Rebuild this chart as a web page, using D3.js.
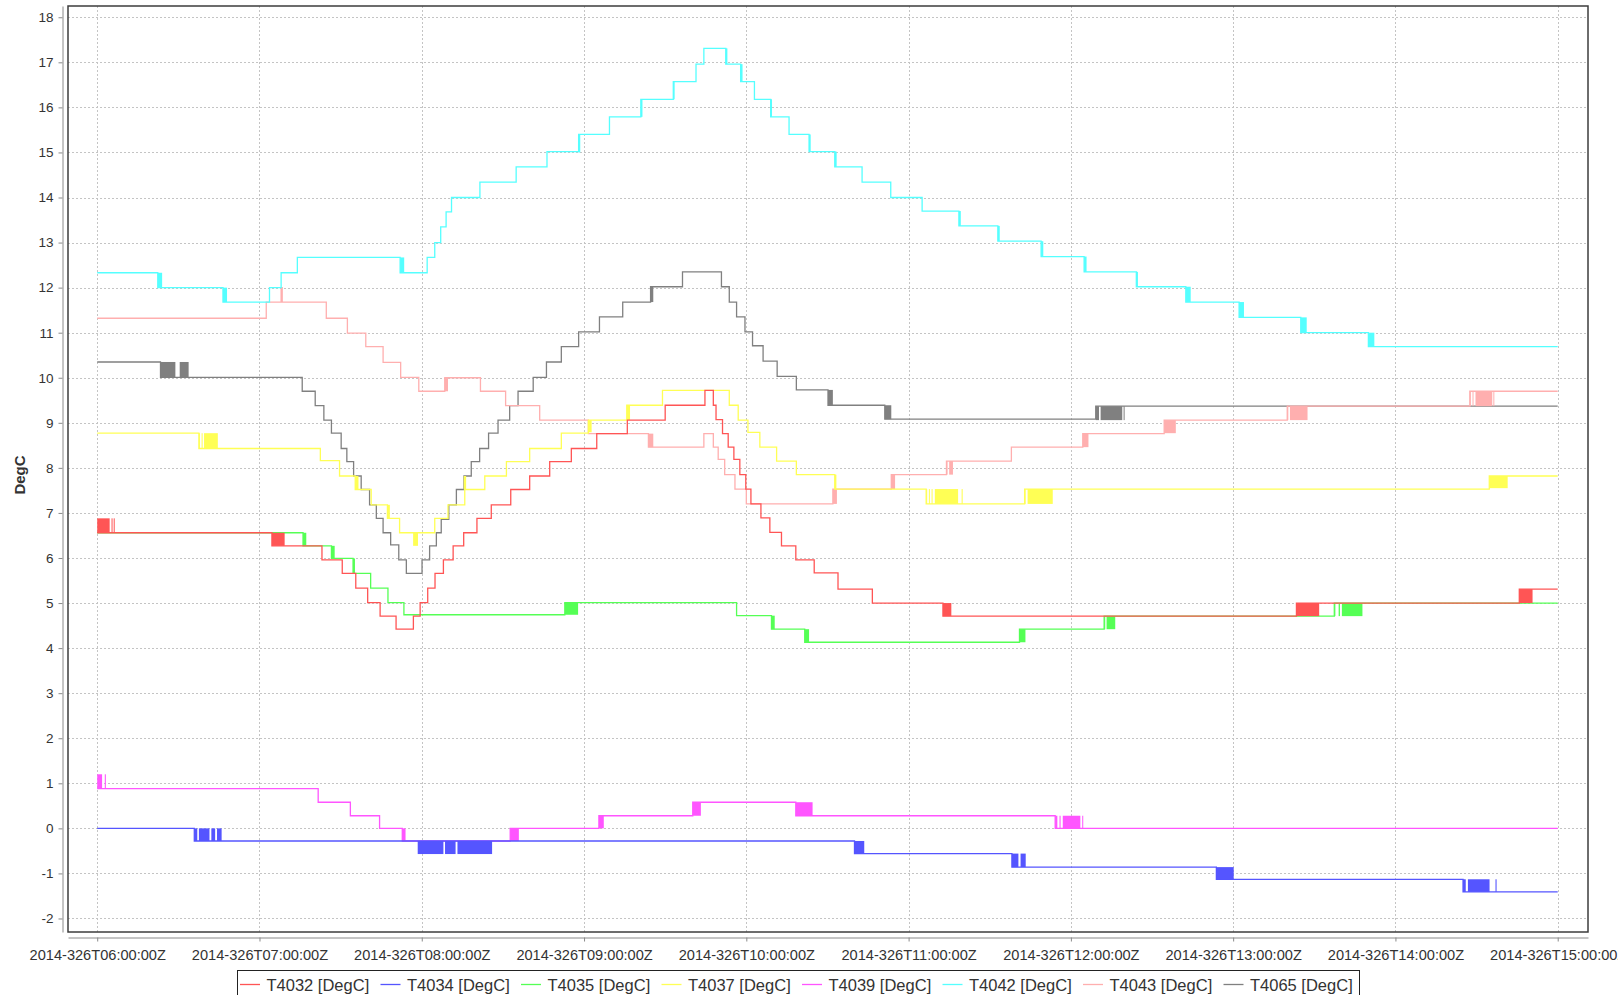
<!DOCTYPE html>
<html>
<head>
<meta charset="utf-8">
<script src="https://cdn.jsdelivr.net/npm/d3@7"></script>
<style>
  body { margin: 0; background: #fff; }
  svg { display: block; }
  text { font-family: "Liberation Sans", Arial, sans-serif; fill: #333; }
</style>
</head>
<body>
<svg id="chart" width="1618" height="995"></svg>
<script>
// ---- data: minutes after the start time, temperature in DegC ----
const startLabel = "2014-326T06:00:00Z";
const xTickLabels = ["2014-326T06:00:00Z", "2014-326T07:00:00Z", "2014-326T08:00:00Z",
  "2014-326T09:00:00Z", "2014-326T10:00:00Z", "2014-326T11:00:00Z", "2014-326T12:00:00Z",
  "2014-326T13:00:00Z", "2014-326T14:00:00Z", "2014-326T15:00:00Z"];
const yTicks = [-2, -1, 0, 1, 2, 3, 4, 5, 6, 7, 8, 9, 10, 11, 12, 13, 14, 15, 16, 17, 18];

const seriesNames = ["T4032 [DegC]", "T4034 [DegC]", "T4035 [DegC]", "T4037 [DegC]",
  "T4039 [DegC]", "T4042 [DegC]", "T4043 [DegC]", "T4065 [DegC]"];
const seriesColors = ["#ff5555", "#5555ff", "#55ff55", "#ffff55", "#ff55ff", "#55ffff", "#ffafaf", "#808080"];

// step series: [minute, value]; rapid toggling periods: [fromMinute, toMinute, valueA, valueB]
const t4032Steps = [[0, 6.56], [64.6, 6.27], [83.1, 5.96], [90.6, 5.66], [95.6, 5.33], [100.0, 5.01],
  [104.6, 4.71], [110.5, 4.42], [116.9, 4.71], [119.4, 5.01], [122.2, 5.33], [124.9, 5.66], [128.0, 5.96],
  [131.6, 6.27], [135.5, 6.56], [140.4, 6.88], [145.7, 7.18], [152.9, 7.52], [159.9, 7.82], [167.3, 8.14],
  [175.3, 8.43], [184.7, 8.76], [196.0, 9.06], [210.0, 9.39], [224.7, 9.72], [227.8, 9.39], [228.8, 9.07],
  [231.2, 8.76], [233.3, 8.46], [235.4, 8.19], [237.6, 7.85], [239.8, 7.53], [241.7, 7.2], [245.4, 6.89],
  [248.7, 6.57], [253.0, 6.27], [258.3, 5.96], [265.1, 5.67], [273.9, 5.31], [286.6, 5.0], [312.7, 4.71],
  [443.4, 5.0], [525.8, 5.31], [540, 5.31]];
const t4032Bands = [[0, 4.6, 6.56, 6.88], [5.3, 5.6, 6.56, 6.88], [6.1, 6.4, 6.56, 6.88],
  [64.6, 69.3, 6.27, 6.56], [312.7, 315.8, 4.71, 5.0], [443.4, 451.8, 4.71, 5.0], [525.8, 530.7, 5.0, 5.31]];

const t4034Steps = [[0, 0.0], [35.9, -0.28], [280.0, -0.56], [338.2, -0.86], [413.8, -1.13], [505.0, -1.41], [540, -1.41]];
const t4034Bands = [[35.9, 37.0, -0.28, 0.0], [37.6, 41.5, -0.28, 0.0], [42.2, 43.6, -0.28, 0.0], [44.3, 46.0, -0.28, 0.0],
  [118.5, 128.0, -0.57, -0.28], [128.6, 132.5, -0.57, -0.28], [133.2, 146.0, -0.57, -0.28],
  [280.0, 283.6, -0.56, -0.28], [338.2, 340.6, -0.86, -0.56], [341.4, 343.3, -0.86, -0.56],
  [413.8, 420.2, -1.13, -0.86], [505.0, 506.0, -1.41, -1.13], [506.8, 514.8, -1.41, -1.13], [517.0, 517.4, -1.41, -1.13]];

const t4035Steps = [[0, 6.56], [76.1, 6.27], [86.6, 5.99], [94.6, 5.66], [101.1, 5.33], [107.5, 5.01],
  [113.4, 4.74], [172.9, 5.01], [236.4, 4.72], [249.3, 4.42], [261.6, 4.13], [341.0, 4.42], [372.3, 4.71],
  [457.4, 5.0], [540, 5.0]];
const t4035Bands = [[76.1, 77.3, 6.27, 6.56], [86.6, 87.8, 5.99, 6.27], [94.6, 95.3, 5.66, 5.99],
  [172.9, 177.8, 4.74, 5.01], [249.3, 250.5, 4.42, 4.72], [261.6, 263.2, 4.13, 4.42], [341.0, 343.2, 4.13, 4.42],
  [372.3, 372.7, 4.42, 4.71], [373.2, 376.4, 4.42, 4.71], [457.4, 457.8, 4.71, 5.0], [459.0, 459.5, 4.71, 5.0],
  [460.2, 467.8, 4.71, 5.0]];

const t4037Steps = [[0, 8.77], [37.6, 8.43], [82.5, 8.16], [89.6, 7.82], [95.4, 7.52], [101.3, 7.18],
  [107.3, 6.88], [111.8, 6.56], [124.8, 6.88], [129.7, 7.18], [135.9, 7.52], [143.3, 7.82], [151.3, 8.14],
  [159.9, 8.43], [171.6, 8.77], [181.6, 9.06], [195.8, 9.39], [209.0, 9.72], [233.7, 9.39], [237.0, 9.06],
  [240.6, 8.79], [245.0, 8.46], [251.2, 8.15], [258.5, 7.85], [272.7, 7.53], [306.5, 7.2], [342.9, 7.53],
  [514.7, 7.82], [540, 7.82]];
const t4037Bands = [[37.6, 37.9, 8.43, 8.77], [38.6, 38.9, 8.43, 8.77], [39.5, 44.6, 8.43, 8.77],
  [95.4, 96.6, 7.52, 7.82], [107.3, 108.2, 6.88, 7.18], [116.8, 118.6, 6.27, 6.56], [135.5, 136.4, 7.52, 7.82],
  [181.6, 182.8, 8.79, 9.06], [195.8, 197.0, 9.06, 9.39], [272.7, 273.3, 7.53, 7.85],
  [306.5, 306.8, 7.2, 7.53], [307.5, 307.8, 7.2, 7.53], [308.5, 308.8, 7.2, 7.53], [309.7, 318.3, 7.2, 7.53],
  [319.6, 320.0, 7.2, 7.53], [342.9, 343.2, 7.2, 7.53], [344.0, 353.3, 7.2, 7.53], [514.7, 521.5, 7.55, 7.82]];

const t4039Steps = [[0, 0.88], [81.7, 0.58], [93.6, 0.28], [104.4, 0.0], [112.8, -0.28], [152.7, 0.0],
  [185.5, 0.28], [220.2, 0.58], [258.3, 0.28], [354.2, 0.0], [540, 0.0]];
const t4039Bands = [[0, 1.8, 0.88, 1.2], [2.8, 3.2, 0.88, 1.2], [112.8, 114.0, -0.28, 0.0],
  [152.7, 155.9, -0.28, 0.0], [185.5, 187.3, 0.0, 0.28], [220.2, 223.2, 0.28, 0.58], [258.3, 264.5, 0.28, 0.58],
  [354.2, 355.0, 0.0, 0.28], [355.8, 356.2, 0.0, 0.28], [357.0, 363.5, 0.0, 0.28], [364.2, 364.5, 0.0, 0.28]];

const t4042Steps = [[0, 12.33], [22.4, 12.0], [46.5, 11.68], [63.7, 12.0], [68.0, 12.33], [74.0, 12.67],
  [112.0, 12.33], [122.0, 12.67], [124.8, 13.0], [127.0, 13.35], [129.0, 13.68], [131.0, 14.0], [141.5, 14.34],
  [154.9, 14.68], [166.3, 15.02], [178.0, 15.40], [189.4, 15.79], [201.0, 16.18], [213.0, 16.57], [221.4, 16.96],
  [224.3, 17.31], [232.4, 16.96], [237.9, 16.57], [243.0, 16.18], [249.0, 15.79], [255.8, 15.40], [263.2, 15.02],
  [272.7, 14.68], [282.8, 14.34], [293.4, 14.0], [305.0, 13.70], [318.6, 13.37], [333.0, 13.03], [349.0, 12.69],
  [364.9, 12.35], [384.2, 12.02], [402.5, 11.68], [422.2, 11.34], [445.0, 11.0], [470.0, 10.69], [540, 10.69]];
const t4042Bands = [[22.4, 24.0, 12.0, 12.33], [46.5, 48.0, 11.68, 12.0], [112.0, 113.5, 12.33, 12.67],
  [178.0, 178.6, 15.0, 15.4], [201.0, 201.6, 15.79, 16.18], [213.0, 213.5, 16.18, 16.57],
  [232.4, 233.0, 16.96, 17.31], [237.9, 238.6, 16.57, 16.96], [249.0, 249.5, 15.79, 16.18],
  [263.2, 263.8, 15.02, 15.40], [272.7, 273.4, 14.68, 15.02], [318.6, 319.3, 13.37, 13.70],
  [333.0, 333.7, 13.03, 13.37], [349.0, 349.8, 12.69, 13.03], [364.9, 365.8, 12.35, 12.69],
  [384.2, 384.8, 12.02, 12.35], [402.5, 404.3, 11.68, 12.02], [422.2, 424.0, 11.34, 11.68],
  [445.0, 447.2, 11.0, 11.34], [470.0, 472.2, 10.69, 11.0]];

const t4043Steps = [[0, 11.32], [62.5, 11.68], [68.0, 12.0], [68.4, 11.68], [84.7, 11.32], [92.5, 10.99],
  [99.3, 10.69], [105.7, 10.34], [112.2, 10.01], [118.9, 9.70], [128.5, 10.0], [141.7, 9.70], [151.0, 9.38],
  [163.6, 9.06], [181.6, 8.76], [203.8, 8.46], [224.3, 8.76], [227.8, 8.46], [229.6, 8.19], [232.0, 7.85],
  [235.8, 7.53], [240.0, 7.2], [272.0, 7.53], [293.6, 7.85], [314.0, 8.15], [338.0, 8.46], [364.4, 8.76],
  [394.5, 9.06], [440.0, 9.37], [507.5, 9.70], [540, 9.70]];
const t4043Bands = [[128.5, 129.7, 9.70, 10.0], [203.8, 205.6, 8.46, 8.76], [272.0, 273.5, 7.2, 7.53],
  [293.6, 295.0, 7.53, 7.85], [314.0, 314.4, 7.85, 8.15], [315.0, 316.4, 7.85, 8.15], [364.4, 366.5, 8.46, 8.77],
  [394.5, 398.8, 8.77, 9.06], [440.0, 440.4, 9.06, 9.37], [441.0, 447.5, 9.06, 9.37],
  [507.5, 507.8, 9.37, 9.70], [508.5, 508.8, 9.37, 9.70], [509.6, 515.8, 9.37, 9.70], [516.2, 516.5, 9.37, 9.70]];

const t4065Steps = [[0, 10.35], [23.4, 10.01], [75.8, 9.70], [80.6, 9.38], [83.8, 9.06], [86.6, 8.77],
  [90.2, 8.43], [92.3, 8.14], [94.8, 7.82], [97.6, 7.52], [100.7, 7.18], [103.2, 6.88], [105.7, 6.56],
  [108.5, 6.29], [111.5, 5.96], [114.3, 5.66], [120.1, 5.96], [122.9, 6.27], [125.4, 6.56], [127.2, 6.86],
  [130.0, 7.18], [132.8, 7.52], [135.6, 7.82], [138.3, 8.14], [141.4, 8.43], [144.7, 8.77], [148.2, 9.06],
  [152.5, 9.38], [155.6, 9.70], [161.2, 10.01], [166.1, 10.35], [171.6, 10.69], [178.0, 11.02], [185.7, 11.35],
  [194.3, 11.68], [204.6, 12.02], [216.4, 12.35], [230.8, 12.02], [233.7, 11.68], [236.4, 11.35], [239.5, 11.02],
  [242.3, 10.71], [246.2, 10.37], [251.4, 10.03], [258.5, 9.73], [270.2, 9.39], [291.2, 9.08], [369.2, 9.37],
  [540, 9.37]];
const t4065Bands = [[23.4, 28.9, 10.01, 10.35], [30.5, 33.8, 10.01, 10.35], [204.6, 205.6, 11.68, 12.02],
  [270.2, 272.0, 9.39, 9.73], [291.2, 293.6, 9.08, 9.39], [369.2, 370.4, 9.06, 9.37], [371.0, 379.0, 9.06, 9.37],
  [379.5, 379.7, 9.06, 9.37]];

const stepData = [t4032Steps, t4034Steps, t4035Steps, t4037Steps, t4039Steps, t4042Steps, t4043Steps, t4065Steps];
const bandData = [t4032Bands, t4034Bands, t4035Bands, t4037Bands, t4039Bands, t4042Bands, t4043Bands, t4065Bands];

// ---- layout ----
const W = 1618, H = 995;
const plot = { left: 68, top: 6, right: 1588, bottom: 932 };

const parseStamp = d3.utcParse("%Y-%jT%H:%M:%SZ");
const fmtStamp = d3.utcFormat("%Y-%jT%H:%M:%SZ");
const t0 = parseStamp(startLabel);
const atMinute = m => new Date(t0.getTime() + m * 60000);

const x = d3.scaleUtc()
  .domain([atMinute(-10.8), atMinute(551.2)])
  .range([plot.left, plot.right]);
const y = d3.scaleLinear()
  .domain([-2.30, 18.25])
  .range([plot.bottom, plot.top]);

const svg = d3.select("#chart");
svg.append("rect").attr("width", W).attr("height", H).attr("fill", "#fff");

const xTickDates = xTickLabels.map(parseStamp);

// grid
const grid = svg.append("g").attr("stroke", "#c4c4c4").attr("stroke-width", 1).attr("stroke-dasharray", "2,2");
grid.selectAll("line.h").data(yTicks).join("line").attr("class", "h")
  .attr("x1", plot.left).attr("x2", plot.right)
  .attr("y1", d => Math.round(y(d)) + 0.5).attr("y2", d => Math.round(y(d)) + 0.5);
grid.selectAll("line.v").data(xTickDates).join("line").attr("class", "v")
  .attr("y1", plot.top).attr("y2", plot.bottom)
  .attr("x1", d => Math.round(x(d)) + 0.5).attr("x2", d => Math.round(x(d)) + 0.5);

// series (last series drawn first, so the first one ends on top)
svg.append("clipPath").attr("id", "plotClip").append("rect")
  .attr("x", plot.left).attr("y", plot.top)
  .attr("width", plot.right - plot.left).attr("height", plot.bottom - plot.top);

const line = d3.line()
  .x(d => x(atMinute(d[0])))
  .y(d => y(d[1]))
  .curve(d3.curveStepAfter);

const layer = svg.append("g").attr("clip-path", "url(#plotClip)");
for (let i = seriesNames.length - 1; i >= 0; i--) {
  const g = layer.append("g").attr("class", "series");
  g.append("path")
    .datum(stepData[i])
    .attr("fill", "none")
    .attr("stroke", seriesColors[i])
    .attr("stroke-width", 1.3)
    .attr("d", line);
  g.selectAll("rect").data(bandData[i]).join("rect")
    .attr("fill", seriesColors[i])
    .attr("x", d => x(atMinute(d[0])))
    .attr("width", d => Math.max(1, x(atMinute(d[1])) - x(atMinute(d[0]))))
    .attr("y", d => y(Math.max(d[2], d[3])))
    .attr("height", d => Math.abs(y(d[2]) - y(d[3])));
}

// plot outline
svg.append("rect")
  .attr("x", plot.left).attr("y", plot.top)
  .attr("width", plot.right - plot.left).attr("height", plot.bottom - plot.top)
  .attr("fill", "none").attr("stroke", "#3c3c3c").attr("stroke-width", 1.5);

// y axis
const yAxis = svg.append("g")
  .attr("transform", "translate(62.5,0)")
  .call(d3.axisLeft(y).tickValues(yTicks).tickSize(4).tickSizeOuter(0).tickPadding(5).tickFormat(d => String(d)));
yAxis.select(".domain").attr("stroke", "#8a8a8a");
yAxis.selectAll(".tick line").attr("stroke", "#8a8a8a");
yAxis.selectAll(".tick text").style("font-size", "13.5px").attr("fill", "#444");

// x axis
const xAxis = svg.append("g")
  .attr("transform", "translate(0,937.5)")
  .call(d3.axisBottom(x).tickValues(xTickDates).tickSize(4).tickSizeOuter(0).tickPadding(8).tickFormat(fmtStamp));
xAxis.select(".domain").attr("stroke", "#8a8a8a");
xAxis.selectAll(".tick line").attr("stroke", "#8a8a8a");
xAxis.selectAll(".tick text").style("font-size", "14.6px").attr("fill", "#444");

// y axis title
svg.append("text")
  .attr("transform", "translate(25,475) rotate(-90)")
  .attr("text-anchor", "middle")
  .style("font-size", "15px").style("font-weight", "bold")
  .attr("fill", "#333")
  .text("DegC");

// legend
const legend = svg.append("g");
legend.append("rect")
  .attr("x", 237.5).attr("y", 970.5).attr("width", 1122).attr("height", 40)
  .attr("fill", "#fff").attr("stroke", "#222").attr("stroke-width", 1);
const item = legend.selectAll("g.item").data(seriesNames).join("g").attr("class", "item")
  .attr("transform", (d, i) => `translate(${240 + i * 140.5},0)`);
item.append("line")
  .attr("x1", 0).attr("x2", 20).attr("y1", 984.5).attr("y2", 984.5)
  .attr("stroke", (d, i) => seriesColors[i]).attr("stroke-width", 1.3);
item.append("text")
  .attr("x", 26.5).attr("y", 990.5)
  .style("font-size", "16.5px").attr("fill", "#333")
  .text(d => d);
</script>
</body>
</html>
